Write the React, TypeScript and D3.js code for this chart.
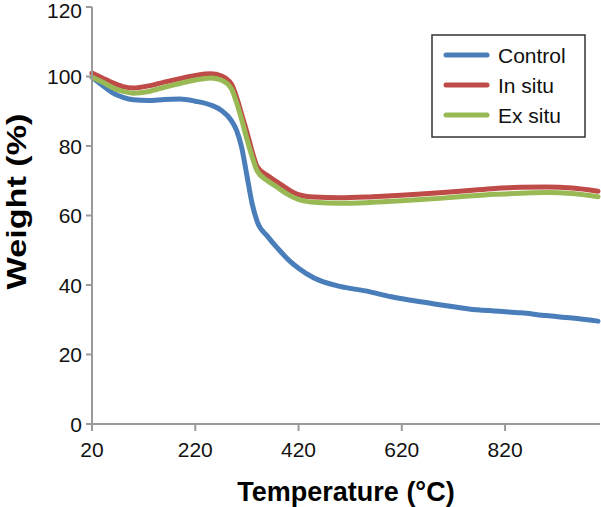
import React from "react";
import * as d3 from "d3";

const temps = [20, 40, 60, 80, 100, 130, 160, 190, 220, 250, 270, 290, 300, 310, 320, 330, 340, 360, 380, 400, 420, 450, 500, 550, 600, 650, 700, 750, 800, 850, 900, 950, 1000];

const control = [99.8, 97.5, 95.3, 94, 93.3, 93.1, 93.4, 93.5, 92.9, 91.8, 90.3, 87.3, 84.5, 79.5, 71.5, 63.5, 58.2, 54, 50.5, 47.3, 44.8, 42, 39.6, 38.3, 36.6, 35.3, 34.2, 33.1, 32.5, 32, 31.2, 30.5, 29.6];

const inSitu = [101, 99.6, 98.2, 97.1, 96.7, 97.3, 98.4, 99.4, 100.3, 100.8, 100.2, 97.8, 94, 89, 84, 78.5, 74, 71.5, 69.5, 67.5, 66, 65.3, 65.1, 65.3, 65.7, 66.1, 66.6, 67.2, 67.8, 68.1, 68.2, 67.9, 67];

const exSitu = [99.8, 98.4, 96.8, 95.7, 95.2, 95.7, 96.9, 98, 99, 99.6, 99, 96.5, 92.5, 87.5, 82, 77, 72.8, 70, 68, 66, 64.6, 63.8, 63.5, 63.7, 64.1, 64.5, 65, 65.6, 66.1, 66.4, 66.6, 66.3, 65.4];

const xTicks = [20, 220, 420, 620, 820];
const yTicks = [0, 20, 40, 60, 80, 100, 120];

const seriesNames = ["Control", "In situ", "Ex situ"];
const seriesColors = ["#4A7EBB", "#BE4B48", "#98B954"];
const seriesValues = [control, inSitu, exSitu];

const FONT = "'Liberation Sans', Arial, Helvetica, sans-serif";

export default function App() {
  const W = 601;
  const H = 507;
  const x = d3.scaleLinear().domain([20, 1000]).range([92, 598]);
  const y = d3.scaleLinear().domain([0, 120]).range([424, 7]);
  const axisColor = "#9a9a9a";

  const line = d3
    .line<[number, number]>()
    .x((d) => x(d[0]))
    .y((d) => y(d[1]))
    .curve(d3.curveMonotoneX);

  return (
    <svg
      width={W}
      height={H}
      style={{ position: "absolute", left: 0, top: 0, background: "#fff" }}
      fontFamily={FONT}
    >
      {/* series */}
      {seriesValues.map((vals, i) => (
        <path
          key={seriesNames[i]}
          d={line(temps.map((t, j) => [t, vals[j]]) as [number, number][]) || ""}
          fill="none"
          stroke={seriesColors[i]}
          strokeWidth={5}
          strokeLinejoin="round"
          strokeLinecap="round"
        />
      ))}

      {/* y axis */}
      <line x1={x(20)} x2={x(20)} y1={y(120)} y2={y(0)} stroke={axisColor} strokeWidth={2} />
      {yTicks.map((t) => (
        <g key={"y" + t}>
          <line x1={x(20) - 6} x2={x(20)} y1={y(t)} y2={y(t)} stroke={axisColor} strokeWidth={2} />
          <text x={82} y={Math.max(y(t), 10)} dy="0.36em" textAnchor="end" fontSize={21} fill="#111">
            {t}
          </text>
        </g>
      ))}

      {/* x axis */}
      <line x1={x(20)} x2={600} y1={y(0)} y2={y(0)} stroke={axisColor} strokeWidth={2} />
      {xTicks.map((t) => (
        <g key={"x" + t}>
          <line x1={x(t)} x2={x(t)} y1={y(0)} y2={y(0) + 7} stroke={axisColor} strokeWidth={2} />
          <text x={x(t)} y={457} textAnchor="middle" fontSize={21} fill="#111">
            {t}
          </text>
        </g>
      ))}

      {/* axis titles */}
      <text x={346} y={501} textAnchor="middle" fontSize={27} fontWeight="bold" fill="#000">
        Temperature (°C)
      </text>
      <text
        transform={`translate(26, ${(113 + 290) / 2}) rotate(-90)`}
        textAnchor="middle"
        fontSize={28}
        fontWeight="bold"
        fill="#000"
        textLength={176}
        lengthAdjust="spacingAndGlyphs"
      >
        Weight (%)
      </text>

      {/* legend */}
      <rect x={432} y={35} width={153} height={102} fill="#fff" stroke="#333" strokeWidth={1.5} />
      {seriesNames.map((n, i) => {
        const cy = 55 + i * 30;
        return (
          <g key={"lg" + n}>
            <line x1={446} x2={487} y1={cy} y2={cy} stroke={seriesColors[i]} strokeWidth={5} strokeLinecap="round" />
            <text x={498} y={cy} dy="0.36em" fontSize={21} fill="#111">
              {n}
            </text>
          </g>
        );
      })}
    </svg>
  );
}
